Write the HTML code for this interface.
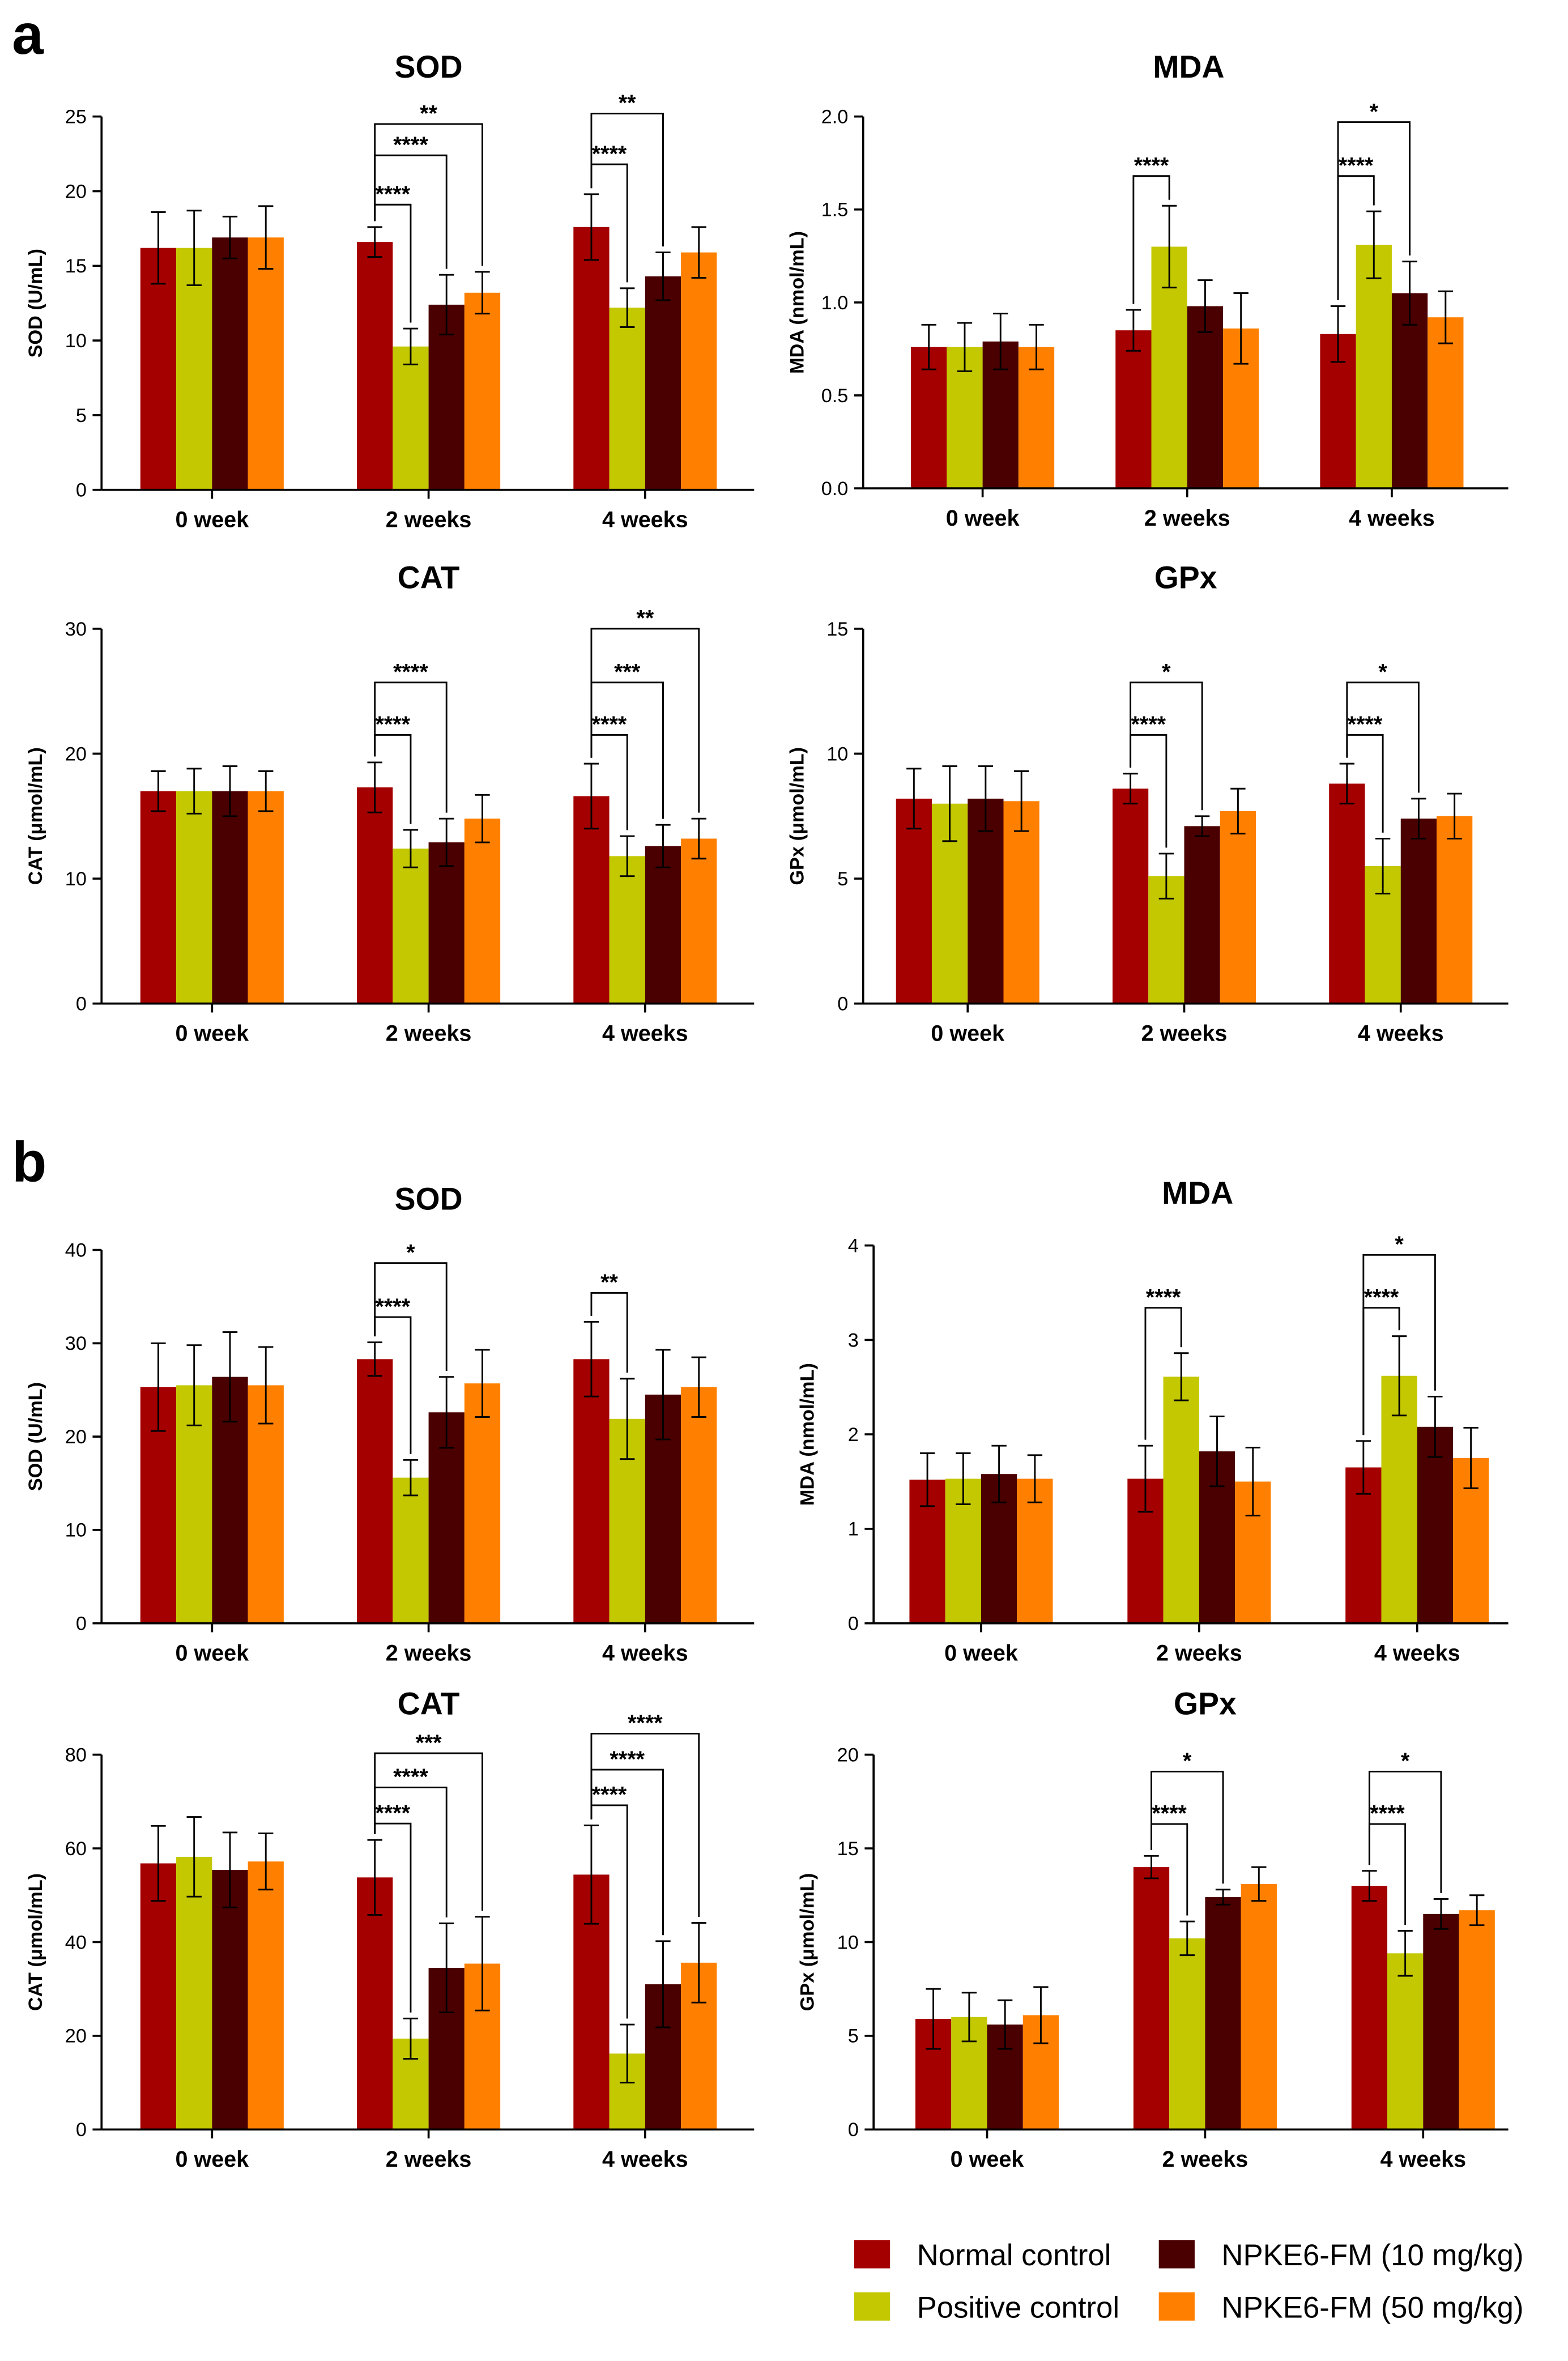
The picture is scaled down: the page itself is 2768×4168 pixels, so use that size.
<!DOCTYPE html>
<html><head><meta charset="utf-8"><style>
html,body{margin:0;padding:0;background:#fff;}
svg{display:block;font-family:"Liberation Sans",Arial,sans-serif;}
</style></head><body>
<svg id="fig" xmlns="http://www.w3.org/2000/svg" width="2768" height="4168" viewBox="0 0 1050 1581">
<rect x="0" y="0" width="1050" height="1581" fill="#fff"/>
<text x="8" y="36" font-size="38" font-weight="bold">a</text>
<text x="8" y="791" font-size="38" font-weight="bold">b</text>
<g id="charts"></g>
<g font-size="20">
<rect x="572" y="1500" width="24" height="19" fill="#a50000"/>
<text x="614" y="1517">Normal control</text>
<rect x="776" y="1500" width="24" height="19" fill="#4a0000"/>
<text x="818" y="1517">NPKE6-FM (10 mg/kg)</text>
<rect x="572" y="1535" width="24" height="19" fill="#c3c800"/>
<text x="614" y="1552">Positive control</text>
<rect x="776" y="1535" width="24" height="19" fill="#ff8000"/>
<text x="818" y="1552">NPKE6-FM (50 mg/kg)</text>
</g>
</svg>
<script>
const categories = ["0 week", "2 weeks", "4 weeks"];
const seriesNames = ["Normal control", "Positive control", "NPKE6-FM (10 mg/kg)", "NPKE6-FM (50 mg/kg)"];
const colors = ["#a50000", "#c3c800", "#4a0000", "#ff8000"];

// Panel a
const aSODMeans = [[16.2,16.2,16.9,16.9],[16.6,9.6,12.4,13.2],[17.6,12.2,14.3,15.9]];
const aSODErrs  = [[2.4,2.5,1.4,2.1],[1.0,1.2,2.0,1.4],[2.2,1.3,1.6,1.7]];
const aSODSig   = [[1,1,2,19.1,"****"],[1,1,3,22.4,"****"],[1,1,4,24.5,"**"],[2,1,2,21.8,"****"],[2,1,3,25.2,"**"]];
const aSODTicks = [0,5,10,15,20,25];

const aMDAMeans = [[0.76,0.76,0.79,0.76],[0.85,1.30,0.98,0.86],[0.83,1.31,1.05,0.92]];
const aMDAErrs  = [[0.12,0.13,0.15,0.12],[0.11,0.22,0.14,0.19],[0.15,0.18,0.17,0.14]];
const aMDASig   = [[1,1,2,1.68,"****"],[2,1,2,1.68,"****"],[2,1,3,1.97,"*"]];
const aMDATicks = [0,0.5,1.0,1.5,2.0];

const aCATMeans = [[17,17,17,17],[17.3,12.4,12.9,14.8],[16.6,11.8,12.6,13.2]];
const aCATErrs  = [[1.6,1.8,2.0,1.6],[2.0,1.5,1.9,1.9],[2.6,1.6,1.7,1.6]];
const aCATSig   = [[1,1,2,21.5,"****"],[1,1,3,25.7,"****"],[2,1,2,21.5,"****"],[2,1,3,25.7,"***"],[2,1,4,30,"**"]];
const aCATTicks = [0,10,20,30];

const aGPXMeans = [[8.2,8.0,8.2,8.1],[8.6,5.1,7.1,7.7],[8.8,5.5,7.4,7.5]];
const aGPXErrs  = [[1.2,1.5,1.3,1.2],[0.6,0.9,0.4,0.9],[0.8,1.1,0.8,0.9]];
const aGPXSig   = [[1,1,2,10.75,"****"],[1,1,3,12.85,"*"],[2,1,2,10.75,"****"],[2,1,3,12.85,"*"]];
const aGPXTicks = [0,5,10,15];

// Panel b
const bSODMeans = [[25.3,25.5,26.4,25.5],[28.3,15.6,22.6,25.7],[28.3,21.9,24.5,25.3]];
const bSODErrs  = [[4.7,4.3,4.8,4.1],[1.8,1.9,3.8,3.6],[4.0,4.3,4.8,3.2]];
const bSODSig   = [[1,1,2,32.8,"****"],[1,1,3,38.6,"*"],[2,1,2,35.4,"**"]];
const bSODTicks = [0,10,20,30,40];

const bMDAMeans = [[1.52,1.53,1.58,1.53],[1.53,2.61,1.82,1.50],[1.65,2.62,2.08,1.75]];
const bMDAErrs  = [[0.28,0.27,0.30,0.25],[0.35,0.25,0.37,0.36],[0.28,0.42,0.32,0.32]];
const bMDASig   = [[1,1,2,3.34,"****"],[2,1,2,3.34,"****"],[2,1,3,3.9,"*"]];
const bMDATicks = [0,1,2,3,4];

const bCATMeans = [[56.8,58.2,55.4,57.2],[53.8,19.4,34.5,35.4],[54.4,16.2,31.0,35.6]];
const bCATErrs  = [[8.0,8.5,8.0,6.0],[8.0,4.3,9.5,10.0],[10.5,6.2,9.2,8.5]];
const bCATSig   = [[1,1,2,65.3,"****"],[1,1,3,73,"****"],[1,1,4,80.3,"***"],[2,1,2,69.2,"****"],[2,1,3,76.8,"****"],[2,1,4,84.5,"****"]];
const bCATTicks = [0,20,40,60,80];

const bGPXMeans = [[5.9,6.0,5.6,6.1],[14.0,10.2,12.4,13.1],[13.0,9.4,11.5,11.7]];
const bGPXErrs  = [[1.6,1.3,1.3,1.5],[0.6,0.9,0.4,0.9],[0.8,1.2,0.8,0.8]];
const bGPXSig   = [[1,1,2,16.3,"****"],[1,1,3,19.1,"*"],[2,1,2,16.3,"****"],[2,1,3,19.1,"*"]];
const bGPXTicks = [0,5,10,15,20];

const NS = "http://www.w3.org/2000/svg";
function mk(tag, attrs, parent, txt){
  const e = document.createElementNS(NS, tag);
  for (const k in attrs) e.setAttribute(k, attrs[k]);
  if (txt !== undefined) e.textContent = txt;
  parent.appendChild(e);
  return e;
}

function drawChart(id, title, yLabel, means, errs, sig, ticks, L){
  const root = document.getElementById('charts');
  const g = mk('g', {}, root);
  
  
  const yMax = ticks[ticks.length-1];
  const y = v => L.bottom - (v / yMax) * (L.bottom - L.top);
  const bw = L.bw;
  const bx = (gi, si) => L.g0 + gi * L.gs - 2 * bw + si * bw;
  const dec = L.dec || 0;

  const t = mk('text', {x: L.titleX, y: L.titleY, 'text-anchor':'middle', 'font-size':21, 'font-weight':'bold'}, g, title);
  
  

  const yl = mk('text', {x:0, y:0, transform:`translate(${L.ax-40},${(L.top+L.bottom)/2}) rotate(-90)`, 'text-anchor':'middle', 'font-size':13, 'font-weight':'bold'}, g, yLabel);
  
  

  // bars
  means.forEach((row, gi) => row.forEach((m, si) => {
    const r = mk('rect', {x: bx(gi,si), y: y(m), width: bw, height: L.bottom - y(m), fill: colors[si]}, g);
    
    
  }));
  // error bars
  means.forEach((row, gi) => row.forEach((m, si) => {
    const cx = bx(gi,si) + bw/2, e = errs[gi][si];
    const eg = mk('g', {stroke:'#000', 'stroke-width':1.1}, g);
    
    
    mk('line', {x1:cx, x2:cx, y1:y(m-e), y2:y(m+e)}, eg);
    mk('line', {x1:cx-5, x2:cx+5, y1:y(m-e), y2:y(m-e)}, eg);
    mk('line', {x1:cx-5, x2:cx+5, y1:y(m+e), y2:y(m+e)}, eg);
  }));
  // axes
  const ag = mk('g', {stroke:'#000', 'stroke-width':1.4}, g);
  
  
  mk('line', {x1:L.ax, x2:L.ax, y1:L.top, y2:L.bottom}, ag);
  mk('line', {x1:L.ax, x2:L.axEnd, y1:L.bottom, y2:L.bottom}, ag);
  ticks.forEach(tv => {
    mk('line', {x1:L.ax-6, x2:L.ax, y1:y(tv), y2:y(tv)}, ag);
    const tl = mk('text', {x:L.ax-10, y:y(tv)+4.5, 'text-anchor':'end', 'font-size':13, stroke:'none'}, g, tv.toFixed(dec));
    
    
  });
  categories.forEach((c, gi) => {
    const cx = L.g0 + gi * L.gs;
    mk('line', {x1:cx, x2:cx, y1:L.bottom, y2:L.bottom+6}, ag);
    const xl = mk('text', {x:cx, y:L.bottom+25, 'text-anchor':'middle', 'font-size':15, 'font-weight':'bold'}, g, c);
    
    
  });
  // significance brackets
  sig.forEach(s => {
    const gi = s[0], a = s[1]-1, b = s[2]-1, h = s[3], lab = s[4];
    const x1 = bx(gi,a) + bw/2, x2 = bx(gi,b) + bw/2;
    const yh = y(h);
    const ya = y(means[gi][a] + errs[gi][a]) - 4;
    const yb = y(means[gi][b] + errs[gi][b]) - 4;
    const sg = mk('g', {}, g);
    
    
    mk('polyline', {points:`${x1},${ya} ${x1},${yh} ${x2},${yh} ${x2},${yb}`, fill:'none', stroke:'#000', 'stroke-width':1.1}, sg);
    mk('text', {x:(x1+x2)/2, y:yh-2, 'text-anchor':'middle', 'font-size':15, 'font-weight':'bold'}, sg, lab);
  });
}

drawChart('a-sod', 'SOD', 'SOD (U/mL)', aSODMeans, aSODErrs, aSODSig, aSODTicks,
  {ax:68, axEnd:505, top:78, bottom:328, g0:142, gs:145, bw:24, titleX:287, titleY:52});
drawChart('a-mda', 'MDA', 'MDA (nmol/mL)', aMDAMeans, aMDAErrs, aMDASig, aMDATicks,
  {ax:578, axEnd:1010, top:78, bottom:327, g0:658, gs:137, bw:24, titleX:796, titleY:52, dec:1});
drawChart('a-cat', 'CAT', 'CAT (μmol/mL)', aCATMeans, aCATErrs, aCATSig, aCATTicks,
  {ax:68, axEnd:505, top:421, bottom:672, g0:142, gs:145, bw:24, titleX:287, titleY:394});
drawChart('a-gpx', 'GPx', 'GPx (μmol/mL)', aGPXMeans, aGPXErrs, aGPXSig, aGPXTicks,
  {ax:578, axEnd:1010, top:421, bottom:672, g0:648, gs:145, bw:24, titleX:794, titleY:394});
drawChart('b-sod', 'SOD', 'SOD (U/mL)', bSODMeans, bSODErrs, bSODSig, bSODTicks,
  {ax:68, axEnd:505, top:837, bottom:1087, g0:142, gs:145, bw:24, titleX:287, titleY:810});
drawChart('b-mda', 'MDA', 'MDA (nmol/mL)', bMDAMeans, bMDAErrs, bMDASig, bMDATicks,
  {ax:585, axEnd:1010, top:834, bottom:1087, g0:657, gs:146, bw:24, titleX:802, titleY:806});
drawChart('b-cat', 'CAT', 'CAT (μmol/mL)', bCATMeans, bCATErrs, bCATSig, bCATTicks,
  {ax:68, axEnd:505, top:1175, bottom:1426, g0:142, gs:145, bw:24, titleX:287, titleY:1148});
drawChart('b-gpx', 'GPx', 'GPx (μmol/mL)', bGPXMeans, bGPXErrs, bGPXSig, bGPXTicks,
  {ax:585, axEnd:1010, top:1175, bottom:1426, g0:661, gs:146, bw:24, titleX:807, titleY:1148});
</script>
</body></html>
